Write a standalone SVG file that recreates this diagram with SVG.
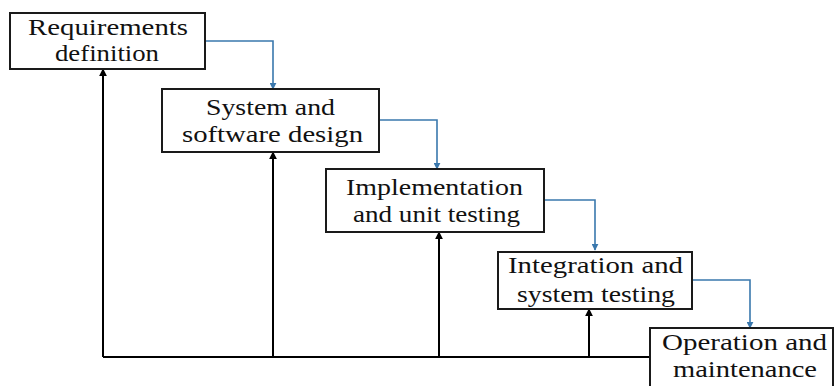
<svg xmlns="http://www.w3.org/2000/svg" width="836" height="386" viewBox="0 0 836 386">
<defs>
<marker id="ab" viewBox="0 0 10 10" refX="9" refY="5" markerWidth="7" markerHeight="7" markerUnits="userSpaceOnUse" orient="auto"><path d="M0,0 L10,5 L0,10 z" fill="#3a78ad"/></marker>
<marker id="ak" viewBox="0 0 10 10" refX="9" refY="5" markerWidth="8" markerHeight="8" markerUnits="userSpaceOnUse" orient="auto"><path d="M0,0 L10,5 L0,10 z" fill="#000"/></marker>
</defs>
<style>
.box{fill:#fff;stroke:#1a1a1a;stroke-width:2}
.t{font-family:'Liberation Serif','Times New Roman',serif;font-size:23px;fill:#111;text-anchor:middle}
.blue{fill:none;stroke:#3a78ad;stroke-width:1.6;marker-end:url(#ab)}
.blk{fill:none;stroke:#000;stroke-width:2}
.blka{fill:none;stroke:#000;stroke-width:2;marker-end:url(#ak)}
</style>
<rect width="836" height="386" fill="#fff"/>
<g id="connectors">
<path class="blue" d="M205,41 H273 V89"/>
<path class="blue" d="M379,120 H437 V169"/>
<path class="blue" d="M544,200 H595 V250"/>
<path class="blue" d="M692,280 H750 V328"/>
<path class="blk" d="M103,357 H650"/>
<path class="blka" d="M103,357 V69"/>
<path class="blka" d="M273,357 V152"/>
<path class="blka" d="M439,357 V232"/>
<path class="blka" d="M589,357 V309"/>
</g>
<g id="n1"><rect class="box" x="10" y="13" width="195" height="56"/>
<text class="t" x="108" y="35" textLength="160" lengthAdjust="spacingAndGlyphs">Requirements</text>
<text class="t" x="107" y="61" textLength="104" lengthAdjust="spacingAndGlyphs">definition</text></g>
<g id="n2"><rect class="box" x="162" y="89" width="217" height="63"/>
<text class="t" x="270.5" y="115" textLength="129" lengthAdjust="spacingAndGlyphs">System and</text>
<text class="t" x="272.5" y="142" textLength="181" lengthAdjust="spacingAndGlyphs">software design</text></g>
<g id="n3"><rect class="box" x="326" y="169" width="218" height="63"/>
<text class="t" x="434.5" y="195" textLength="177" lengthAdjust="spacingAndGlyphs">Implementation</text>
<text class="t" x="436.5" y="222" textLength="167" lengthAdjust="spacingAndGlyphs">and unit testing</text></g>
<g id="n4"><rect class="box" x="498" y="252" width="194" height="57"/>
<text class="t" x="595.5" y="273" textLength="175" lengthAdjust="spacingAndGlyphs">Integration and</text>
<text class="t" x="596" y="302" textLength="158" lengthAdjust="spacingAndGlyphs">system testing</text></g>
<g id="n5"><rect class="box" x="650" y="328" width="183" height="66"/>
<text class="t" x="744.5" y="350" textLength="165" lengthAdjust="spacingAndGlyphs">Operation and</text>
<text class="t" x="745" y="377" textLength="144" lengthAdjust="spacingAndGlyphs">maintenance</text></g>
</svg>
